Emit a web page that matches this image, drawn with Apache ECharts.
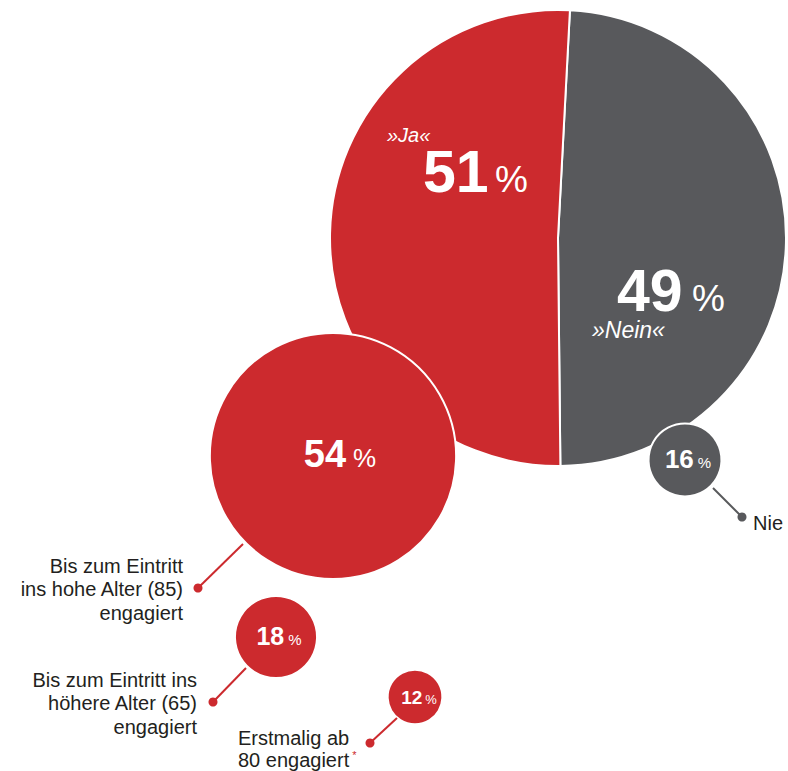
<!DOCTYPE html>
<html>
<head>
<meta charset="utf-8">
<script src="https://cdn.jsdelivr.net/npm/echarts@6/dist/echarts.min.js"></script>
<style>
  html, body { margin: 0; padding: 0; background: #fff; }
  #chart { width: 788px; height: 771px; }
</style>
</head>
<body>
<div id="chart"></div>
<script>
// Hauptfrage: Ja / Nein (Reihenfolge im Uhrzeigersinn ab oben)
const shareNames = ['»Nein«', '»Ja«'];
const shareValues = [49, 51];

// Untergruppen als Kreise (Radius proportional zum Wert)
const bubbleNames = [
  'Bis zum Eintritt\nins hohe Alter (85)\nengagiert',
  'Nie',
  'Bis zum Eintritt ins\nhöhere Alter (65)\nengagiert',
  'Erstmalig ab\n80 engagiert'
];
const bubbleValues = [54, 16, 18, 12];

const RED = '#cc2a2e';
const GRAY = '#58595c';
const TEXT = '#231f20';
const FONT = "'Liberation Sans', Arial, sans-serif";
const PX_PER_PCT = 2.28;

// Layout (Pixel)
const bigCenter = [558, 238];
const bubbleCenters = [[333, 456], [685, 460], [276, 637], [415, 697]];
const bubbleColors = [RED, GRAY, RED, RED];
const numSizes = [38, 26, 25, 19];
const pctSizes = [26, 15, 15, 13];
const labelOffsets = [[7, -2], [3, -1], [3, -1], [4, 0]];
// Hinweislinien: [x1, y1, x2, y2]
const leaders = [[243, 544, 198, 588], [713, 488, 742, 517], [246, 668, 213, 702], [397, 718, 370, 743]];
const textPos = [
  { x: 183, y: 589, align: 'right' },
  { x: 753, y: 523, align: 'left' },
  { x: 197, y: 703, align: 'right' },
  { x: 238, y: 749, align: 'left' }
];
// Positionen der Werte im großen Kreis: [Zahl x, Zahl y, % x, % y], Reihenfolge wie shareValues
const bigLabelPos = [[617, 291, 692, 298], [423, 172, 495, 179]];
const namePos = [[592, 330, 23], [387, 135, 20]];

const chart = echarts.init(document.getElementById('chart'), null, { renderer: 'svg' });

const series = [{
  type: 'pie',
  center: bigCenter,
  radius: [0, 100 * PX_PER_PCT],
  startAngle: 87,
  clockwise: true,
  silent: true,
  animation: false,
  emphasis: { disabled: true },
  label: { show: false },
  labelLine: { show: false },
  itemStyle: { borderColor: '#fff', borderWidth: 2 },
  data: shareValues.map((v, i) => ({
    name: shareNames[i],
    value: v,
    itemStyle: { color: i === 0 ? GRAY : RED }
  }))
}];

bubbleValues.forEach((v, i) => {
  series.push({
    type: 'pie',
    center: bubbleCenters[i],
    radius: [0, v * PX_PER_PCT],
    silent: true,
    animation: false,
    emphasis: { disabled: true },
    labelLine: { show: false },
    itemStyle: { color: bubbleColors[i], borderColor: '#fff', borderWidth: 2 },
    label: {
      show: true,
      position: 'center',
      offset: labelOffsets[i],
      formatter: '{n|' + v + '}{p|%}',
      rich: {
        n: { fontFamily: FONT, fontWeight: 'bold', fontSize: numSizes[i], lineHeight: numSizes[i], color: '#fff', verticalAlign: 'bottom' },
        p: { fontFamily: FONT, fontSize: pctSizes[i], lineHeight: pctSizes[i], color: '#fff', verticalAlign: 'bottom',
             padding: [0, 0, Math.round(numSizes[i] * 0.06), Math.round(pctSizes[i] * 0.25)] }
      }
    },
    data: [{ name: bubbleNames[i].replace(/\n/g, ' '), value: v }]
  });
});

const graphics = [];

// Beschriftung im großen Kreis
shareValues.forEach((v, i) => {
  const p = bigLabelPos[i];
  graphics.push({
    type: 'text', x: p[0], y: p[1], z: 100, silent: true,
    style: { text: String(v), fontFamily: FONT, fontWeight: 'bold', fontSize: 59, lineHeight: 42, fill: '#fff', align: 'left', verticalAlign: 'middle' }
  });
  graphics.push({
    type: 'text', x: p[2], y: p[3], z: 100, silent: true,
    style: { text: '%', fontFamily: FONT, fontSize: 37, lineHeight: 28, fill: '#fff', align: 'left', verticalAlign: 'middle' }
  });
  const n = namePos[i];
  graphics.push({
    type: 'text', x: n[0], y: n[1], z: 100, silent: true,
    style: { text: shareNames[i], fontFamily: FONT, fontStyle: 'italic', fontSize: n[2], lineHeight: n[2], fill: '#fff', align: 'left', verticalAlign: 'middle' }
  });
});

// Hinweislinien und Texte der Kreise
leaders.forEach((l, i) => {
  const c = bubbleColors[i];
  graphics.push({ type: 'line', z: 100, silent: true, shape: { x1: l[0], y1: l[1], x2: l[2], y2: l[3] }, style: { stroke: c, lineWidth: 2 } });
  graphics.push({ type: 'circle', z: 100, silent: true, shape: { cx: l[2], cy: l[3], r: 4.5 }, style: { fill: c } });
  const p = textPos[i];
  let txt = bubbleNames[i];
  if (i === 3) txt = txt + '{a|*}';
  graphics.push({
    type: 'text', x: p.x, y: p.y, z: 100, silent: true,
    style: {
      text: txt, fontFamily: FONT, fontSize: 20, lineHeight: i === 3 ? 22 : 23.5, fill: TEXT,
      align: p.align, verticalAlign: 'middle',
      rich: { a: { fontFamily: FONT, fontSize: 11, fill: RED, verticalAlign: 'top', padding: [0, 0, 8, 3] } }
    }
  });
});

chart.setOption({
  backgroundColor: '#fff',
  animation: false,
  series: series,
  graphic: graphics
});
</script>
</body>
</html>
